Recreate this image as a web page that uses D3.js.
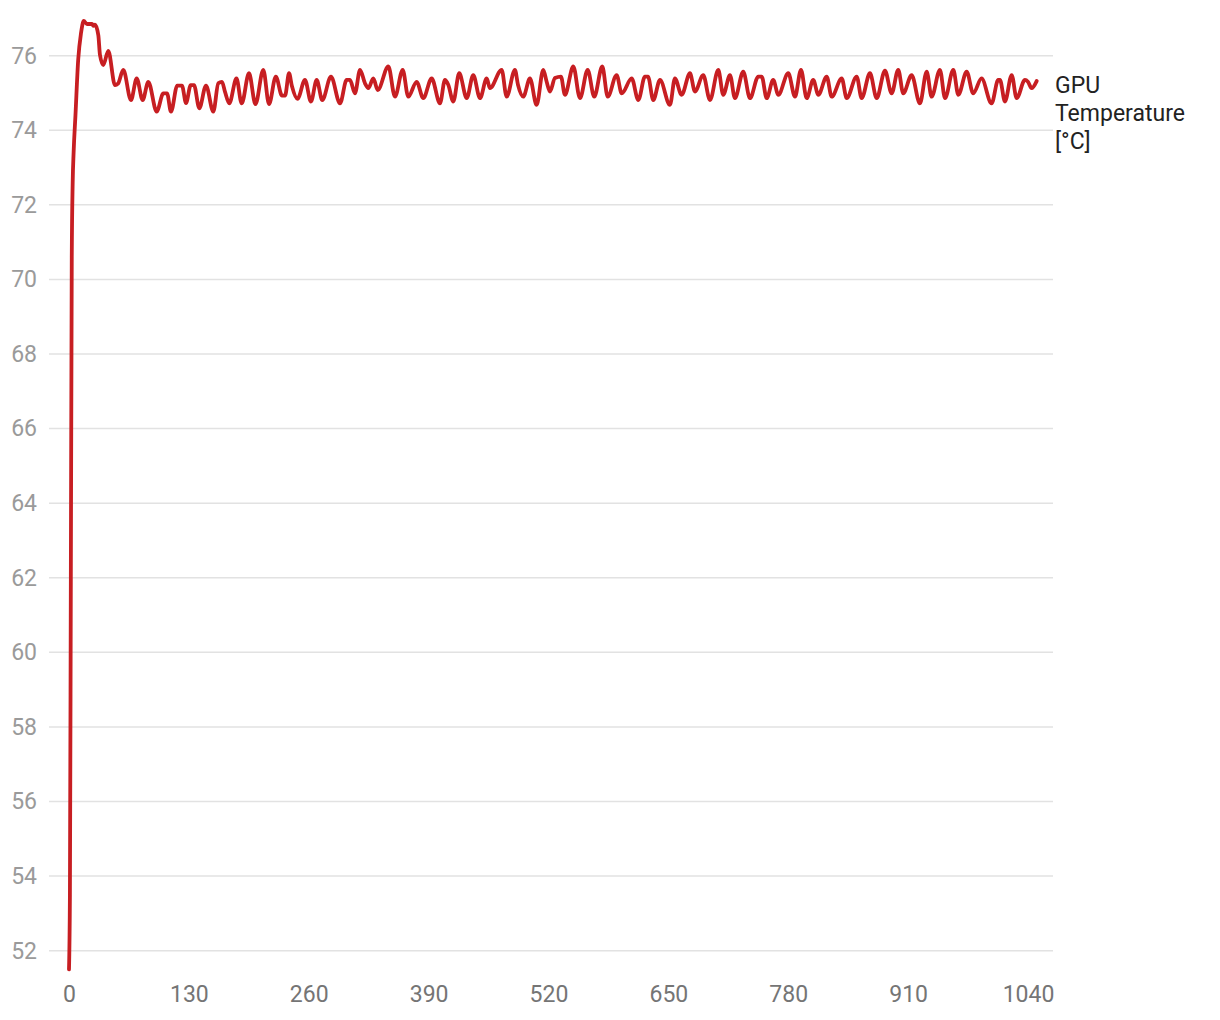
<!DOCTYPE html>
<html>
<head>
<meta charset="utf-8">
<script src="https://cdn.jsdelivr.net/npm/d3@7"></script>
<style>
  html, body { margin: 0; padding: 0; background: #fff; }
  svg { display: block; font-family: Roboto, "Noto Sans", sans-serif; }
</style>
</head>
<body>
<svg id="chart" width="1220" height="1020"></svg>
<script>
// ---- data ----
const seriesName = ["GPU", "Temperature", "[°C]"];
const yTicks = [52, 54, 56, 58, 60, 62, 64, 66, 68, 70, 72, 74, 76];
const xTicks = [0, 130, 260, 390, 520, 650, 780, 910, 1040];

const seconds = [
  0, 1, 2, 3, 4, 5, 7, 10, 13, 16, 19.5, 25, 26.4, 28.2, 31.8, 33.6, 37.2, 42.6, 49.9, 53.1,
  58.9, 67.2, 73.4, 79.9, 86, 95.1, 102.3, 106.3, 110.6, 117.4, 122.5, 126.9, 132, 135.6, 141.3, 148.6,
  156.5, 161.9, 165.9, 169.2, 173.8, 181.6, 187.3, 195.2, 202.2, 210.7, 216.9, 224.3, 231, 234.3,
  238.6, 241.8, 247.8, 255.9, 262.4, 268.6, 274.7, 284.1, 293.9, 301.1, 304.7, 310.1, 315.6, 321,
  324.6, 330, 334.8, 346.3, 353.5, 361.9, 367.9, 377, 384.2, 393.3, 402.3, 407.7, 411.3, 416.7,
  423.2, 431.3, 438.4, 445.7, 453, 456.5, 469.2, 474.6, 483.6, 486.9, 492.6, 499.9, 507.1, 514.3,
  518, 521.6, 527, 533.5, 537.8, 546.9, 554.1, 562.5, 569.6, 578.3, 584.2, 593.9, 599.4, 610.2,
  617.4, 624.6, 627.9, 633.6, 640.9, 651.7, 657.1, 664.4, 673.4, 678.8, 687.8, 695.1, 704.1, 709.5,
  716.8, 722.2, 731.2, 738.5, 747.5, 751.2, 756.6, 763.7, 769.2, 780, 787.3, 793.8, 800, 807.1,
  812.6, 821.7, 827.1, 838, 843.4, 854.2, 859.6, 868.6, 875.9, 884.9, 892.1, 899.3, 904.7, 913.8,
  922.8, 930.1, 935.5, 944.5, 950, 959, 964.4, 973.5, 980.6, 989.6, 1000.5, 1007.7, 1009.6, 1015,
  1022.3, 1027.7, 1036.7, 1039.9, 1043.9, 1049.4
];
const temperature = [
  51.5, 53.5, 62, 70.6, 72.6, 73.4, 74.4, 75.9, 76.6, 76.93, 76.85, 76.85, 76.8, 76.83, 76.55, 76.02, 75.75, 76.13, 75.21, 75.25,
  75.62, 74.81, 75.39, 74.81, 75.3, 74.5, 74.99, 74.99, 74.5, 75.2, 75.2, 74.73, 75.21, 75.21, 74.59, 75.2,
  74.5, 75.26, 75.3, 75.03, 74.72, 75.39, 74.72, 75.53, 74.7, 75.62, 74.7, 75.44, 74.93, 74.93,
  75.53, 75.18, 74.84, 75.35, 74.77, 75.35, 74.81, 75.44, 74.72, 75.35, 75.35, 74.99, 75.62, 75.26,
  75.13, 75.39, 75.08, 75.71, 74.9, 75.62, 74.9, 75.3, 74.86, 75.39, 74.72, 75.35, 75.22, 74.77,
  75.53, 74.86, 75.48, 74.86, 75.39, 75.13, 75.62, 74.9, 75.62, 75.22, 74.9, 75.39, 74.68, 75.62,
  75.3, 75.04, 75.4, 75.44, 74.95, 75.71, 74.86, 75.62, 74.9, 75.71, 74.9, 75.48, 74.99, 75.39,
  74.81, 75.44, 75.44, 74.81, 75.35, 74.68, 75.39, 74.95, 75.53, 75.04, 75.48, 74.81, 75.62, 74.95,
  75.48, 74.86, 75.57, 74.86, 75.44, 75.44, 74.86, 75.35, 74.95, 75.53, 74.9, 75.62, 74.86, 75.35,
  74.95, 75.44, 74.9, 75.39, 74.86, 75.44, 74.86, 75.53, 74.86, 75.6, 74.99, 75.62, 74.99, 75.48,
  74.72, 75.57, 74.9, 75.62, 74.86, 75.62, 74.95, 75.57, 74.99, 75.39, 74.72, 75.35, 75.35, 74.77,
  75.48, 74.86, 75.35, 75.3, 75.13, 75.32
];

// ---- chart ----
const svg = d3.select("#chart");
const gridLeft = 49, gridRight = 1053;

const x = d3.scaleLinear().domain([0, 1040]).range([69, 1028]);
const y = d3.scaleLinear().domain([52, 76]).range([950.7, 55.7]);

// gridlines
svg.append("g")
  .selectAll("line")
  .data(yTicks)
  .join("line")
  .attr("x1", gridLeft).attr("x2", gridRight)
  .attr("y1", d => y(d)).attr("y2", d => y(d))
  .attr("stroke", "#e2e2e2")
  .attr("stroke-width", 1.5);

// y axis labels
const yAxis = d3.axisLeft(y).tickValues(yTicks).tickSize(0).tickPadding(0);
const gy = svg.append("g").attr("transform", "translate(37,0)").call(yAxis);
gy.select(".domain").remove();
gy.selectAll("text")
  .attr("fill", "#9a9a9a")
  .style("font-size", "23px")
  .style("font-family", "Roboto, sans-serif");

// x axis labels
const xAxis = d3.axisBottom(x).tickValues(xTicks).tickSize(0).tickPadding(0).tickFormat(d3.format("d"));
const gx = svg.append("g").attr("transform", "translate(0,986)").call(xAxis);
gx.select(".domain").remove();
gx.selectAll("text")
  .attr("fill", "#757575")
  .style("font-size", "23px")
  .style("font-family", "Roboto, sans-serif");

// line
const pts = seconds.map((s, i) => [s, temperature[i]]);
const line = d3.line().x(d => x(d[0])).y(d => y(d[1])).curve(d3.curveMonotoneX);
svg.append("path")
  .datum(pts)
  .attr("d", line)
  .attr("fill", "none")
  .attr("stroke", "#c71e22")
  .attr("stroke-width", 3.8)
  .attr("stroke-linejoin", "round")
  .attr("stroke-linecap", "round");

// series label
const last = pts[pts.length - 1];
const lbl = svg.append("text")
  .attr("x", 1055)
  .attr("y", y(last[1]) + 12)
  .attr("fill", "#222")
  .style("font-size", "23px")
  .style("font-family", "Roboto, sans-serif");
lbl.selectAll("tspan")
  .data(seriesName)
  .join("tspan")
  .attr("x", 1055)
  .attr("dy", (d, i) => i === 0 ? 0 : 28)
  .text(d => d);
</script>
</body>
</html>
